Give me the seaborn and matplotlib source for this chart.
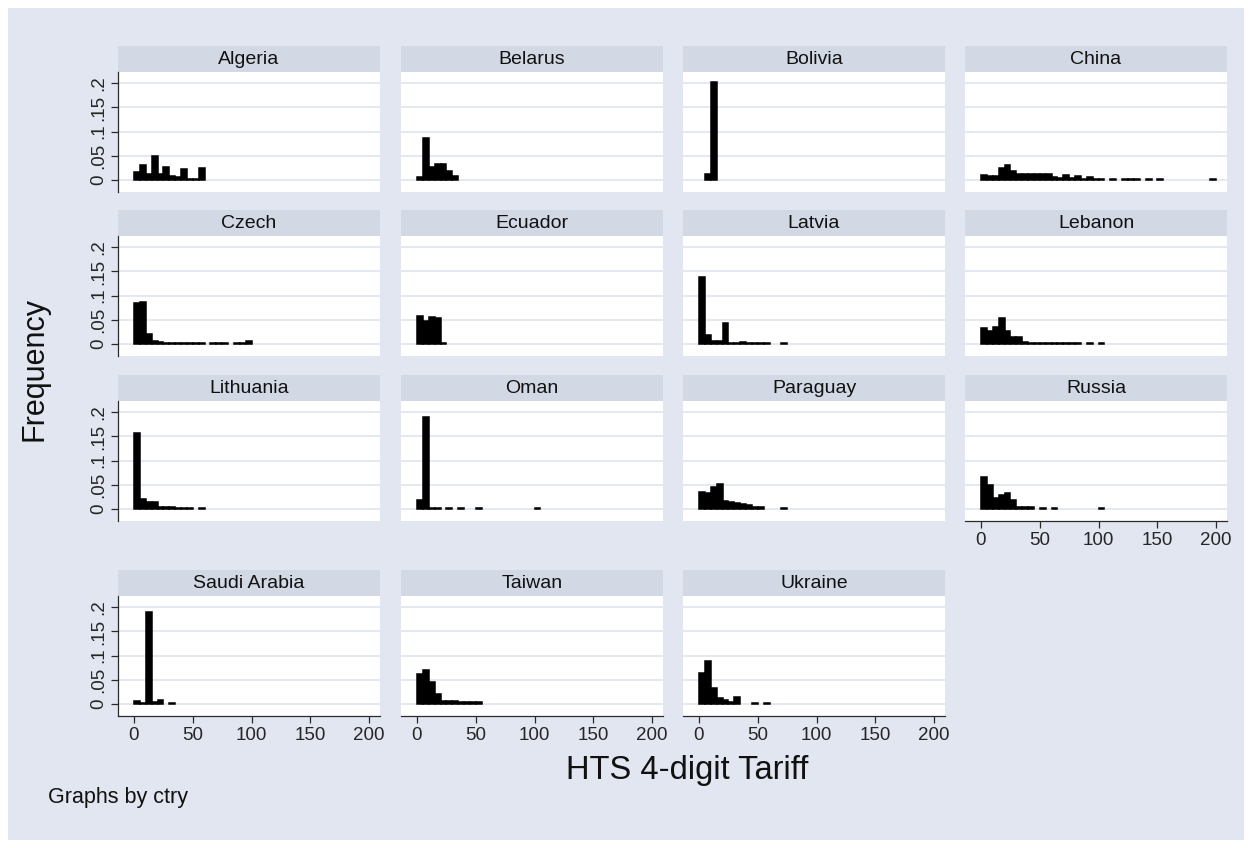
import matplotlib
matplotlib.use('Agg')
import matplotlib.pyplot as plt
from matplotlib.patches import Rectangle
import numpy as np
import pandas as pd
import seaborn as sns

# ─── Dữ liệu: mật độ theo bin rộng 5 điểm thuế, bin đầu tiên bắt đầu từ 0 ───
BIN_WIDTH = 5
N_BINS = 40

countries = ['Algeria', 'Belarus', 'Bolivia', 'China',
             'Czech', 'Ecuador', 'Latvia', 'Lebanon',
             'Lithuania', 'Oman', 'Paraguay', 'Russia',
             'Saudi Arabia', 'Taiwan', 'Ukraine']

algeria = [0.017, 0.031, 0.013, 0.050, 0.013, 0.027, 0.008, 0.006, 0.023, 0.002, 0.002, 0.025]
belarus = [0.007, 0.087, 0.027, 0.033, 0.033, 0.018, 0.008]
bolivia = [0, 0.012, 0.202]
china = [0.011, 0.009, 0.009, 0.025, 0.031, 0.019, 0.012, 0.013, 0.013, 0.012,
         0.012, 0.012, 0.007, 0.004, 0.011, 0.004, 0.009, 0.003, 0.007, 0.002,
         0.002, 0, 0.0012, 0, 0.0012, 0.0012, 0.0012, 0, 0.0012, 0,
         0.0012, 0, 0, 0, 0, 0, 0, 0, 0, 0.0012]
czech = [0.085, 0.087, 0.020, 0.006, 0.0035, 0.003, 0.0015, 0.0015, 0.0015, 0.0015,
         0.0015, 0.0015, 0, 0.0015, 0.0015, 0.0015, 0, 0.0015, 0.0015, 0.006]
ecuador = [0.058, 0.048, 0.055, 0.054, 0.0015]
latvia = [0.138, 0.019, 0.007, 0.007, 0.043, 0.003, 0.003, 0.004, 0.003, 0.003,
          0.003, 0.003, 0, 0, 0.0015]
lebanon = [0.034, 0.027, 0.036, 0.053, 0.026, 0.014, 0.015, 0.005, 0.002, 0.002,
           0.003, 0.002, 0.002, 0.002, 0.002, 0.002, 0.002, 0, 0.0015, 0, 0.0015]
lithuania = [0.158, 0.020, 0.015, 0.014, 0.005, 0.0035, 0.0035, 0.0015, 0.0015, 0.0015,
             0, 0.0015]
oman = [0.019, 0.190, 0.0015, 0.0015, 0, 0.0015, 0, 0.0015, 0, 0,
        0.0015, 0, 0, 0, 0, 0, 0, 0, 0, 0, 0.0015]
paraguay = [0.036, 0.033, 0.045, 0.051, 0.016, 0.015, 0.012, 0.011, 0.009, 0.004,
            0.005, 0, 0, 0, 0.003]
russia = [0.066, 0.050, 0.023, 0.029, 0.033, 0.018, 0.004, 0.004, 0.004, 0,
          0.0015, 0, 0.0015, 0, 0, 0, 0, 0, 0, 0, 0.002]
saudi = [0.0055, 0.003, 0.191, 0.005, 0.009, 0, 0.002]
taiwan = [0.062, 0.070, 0.045, 0.021, 0.007, 0.0055, 0.0055, 0.005, 0.0035, 0.0035, 0.0035]
ukraine = [0.065, 0.088, 0.033, 0.012, 0.008, 0.0035, 0.015, 0, 0, 0.0015, 0, 0.0015]

heights = [algeria, belarus, bolivia, china, czech, ecuador, latvia, lebanon,
           lithuania, oman, paraguay, russia, saudi, taiwan, ukraine]

Y_TICKS = [0, 0.05, 0.1, 0.15, 0.2]
Y_TICK_LABELS = ['0', '.05', '.1', '.15', '.2']
X_TICKS = [0, 50, 100, 150, 200]
X_TICK_LABELS = ['0', '50', '100', '150', '200']

# bảng dài: mỗi dòng là một bin khác 0
rows = []
for name, h in zip(countries, heights):
    for k, v in enumerate(h):
        if v > 0:
            rows.append({'ctry': name, 'mid': k * BIN_WIDTH + BIN_WIDTH / 2, 'freq': v})
df = pd.DataFrame(rows)

# ─── Style kiểu Stata s2color ───
sns.set_style('white')
plt.rcParams['font.family'] = ['Liberation Sans', 'DejaVu Sans']

BG = '#E1E6F0'
STRIP = '#D3D9E4'
GRID = '#DDE2EC'
AXIS = '#2a2a2a'

W, H = 1252, 848
fig = plt.figure(figsize=(W / 100, H / 100), dpi=100)
fig.patch.set_facecolor('white')
fig.add_artist(Rectangle((8 / W, 8 / H), (W - 16) / W, (H - 16) / H,
                         transform=fig.transFigure, facecolor=BG,
                         edgecolor='none', zorder=-10))

col_left = [118, 401, 683, 965]
row_top = [72, 236, 401, 596]
PW, PH, SH = 262, 120, 26
with_xaxis = {'Russia', 'Saudi Arabia', 'Taiwan', 'Ukraine'}

for i, name in enumerate(countries):
    r, c = divmod(i, 4)
    left, top = col_left[c], row_top[r]
    ax = fig.add_axes([left / W, 1 - (top + PH) / H, PW / W, PH / H])
    ax.set_facecolor('white')

    sub = df[df['ctry'] == name]
    sns.histplot(data=sub, x='mid', weights='freq',
                 binwidth=BIN_WIDTH, binrange=(0, N_BINS * BIN_WIDTH), ax=ax,
                 color='black', edgecolor='black', linewidth=1.1, alpha=1)
    # ẩn các bin rỗng (chiều cao 0)
    for p in ax.patches:
        if p.get_height() <= 0:
            p.set_visible(False)

    ax.set_xlim(-13.6, 209.2)
    ax.set_ylim(-0.0248, 0.2234)
    ax.set_xlabel('')
    ax.set_ylabel('')
    ax.set_yticks(Y_TICKS)
    ax.set_xticks(X_TICKS)
    ax.grid(axis='y', color=GRID, linewidth=1.1)
    ax.grid(axis='x', visible=False)
    ax.set_axisbelow(True)

    for s in ax.spines.values():
        s.set_visible(False)

    if c == 0:
        ax.spines['left'].set_visible(True)
        ax.spines['left'].set_color(AXIS)
        ax.spines['left'].set_linewidth(0.9)
        ax.set_yticklabels(Y_TICK_LABELS, rotation=90, va='center', ha='right')
        ax.tick_params(axis='y', left=True, length=5, width=0.9, color=AXIS,
                       labelsize=13.5, pad=3)
    else:
        ax.tick_params(axis='y', left=False, labelleft=False)

    if name in with_xaxis:
        ax.spines['bottom'].set_visible(True)
        ax.spines['bottom'].set_color(AXIS)
        ax.spines['bottom'].set_linewidth(0.9)
        ax.set_xticklabels(X_TICK_LABELS)
        ax.tick_params(axis='x', bottom=True, length=5, width=0.9, color=AXIS,
                       labelsize=13.5, pad=3)
    else:
        ax.tick_params(axis='x', bottom=False, labelbottom=False)

    # thanh tiêu đề của từng ô
    ax.add_patch(Rectangle((0, 1), 1, SH / PH, transform=ax.transAxes,
                           facecolor=STRIP, edgecolor='none', clip_on=False))
    ax.text(0.5, 1 + SH / PH / 2, name, transform=ax.transAxes,
            ha='center', va='center', fontsize=14, color='#111111')

fig.text(35 / W, 1 - 369 / H, 'Frequency', rotation=90, ha='center', va='center',
         fontsize=22, color='#111111')
fig.text(687 / W, 1 - 771 / H, 'HTS 4-digit Tariff', ha='center', va='center',
         fontsize=23.5, color='#111111')
fig.text(48 / W, 1 - 797 / H, 'Graphs by ctry', ha='left', va='center',
         fontsize=15.5, color='#111111')

fig.savefig('out.png', dpi=100, facecolor=fig.get_facecolor())
